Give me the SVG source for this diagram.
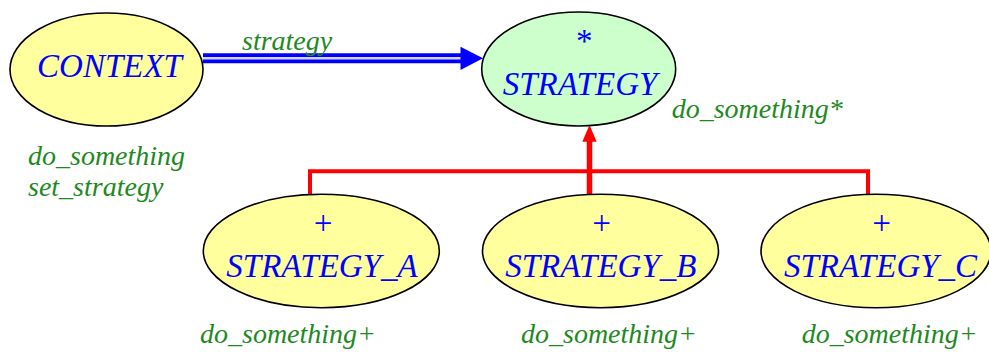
<svg xmlns="http://www.w3.org/2000/svg" width="989" height="352" viewBox="0 0 989 352">
<style>
.node{stroke:#000;stroke-width:1.6}
.yel{fill:#ffff9e}
.grn{fill:#ccffcc}
.nt{font-family:"Liberation Serif","Times New Roman",serif;font-style:italic;font-size:33px;fill:#0000ff;text-anchor:middle}
.lbl{font-family:"Liberation Serif","Times New Roman",serif;font-style:italic;font-size:28px;fill:#1e8a1e}
.red{stroke:#ff0000;stroke-width:4;fill:none}
</style>
<rect width="989" height="352" fill="#fff"/>
<g id="connectors">
  <g id="client-link">
    <line x1="203" y1="58.3" x2="462" y2="58.3" stroke="#0000ff" stroke-width="10"/>
    <line x1="203" y1="58.3" x2="462" y2="58.3" stroke="#d4d4ff" stroke-width="2.6"/>
    <polygon points="460.5,46.7 483,58.3 460.5,70" fill="#0000ff"/>
    <text class="lbl" x="242" y="50">strategy</text>
  </g>
  <g id="inheritance">
    <polyline class="red" points="310,194 310,171.3 868,171.3 868,194"/>
    <line x1="589.5" y1="194" x2="589.5" y2="140" stroke="#ff0000" stroke-width="5.5"/>
    <polygon points="582.3,141.7 589.5,125 596.7,141.7" fill="#ff0000"/>
  </g>
</g>
<g id="context">
  <ellipse class="node yel" cx="106.5" cy="69.5" rx="96.5" ry="56.5"/>
  <text class="nt" x="109.5" y="77">CONTEXT</text>
  <text class="lbl" x="28" y="165">do_something</text>
  <text class="lbl" x="28" y="196">set_strategy</text>
</g>
<g id="strategy">
  <ellipse class="node grn" cx="578.7" cy="69" rx="97" ry="57"/>
  <text class="nt" x="582.7" y="52">*</text>
  <text class="nt" x="580" y="95">STRATEGY</text>
  <text class="lbl" x="671.7" y="118">do_something*</text>
</g>
<g id="strategy_a">
  <ellipse class="node yel" cx="321.3" cy="251" rx="118" ry="56.7"/>
  <text class="nt" x="323" y="234">+</text>
  <text class="nt" x="322" y="277">STRATEGY_A</text>
  <text class="lbl" x="200" y="343">do_something+</text>
</g>
<g id="strategy_b">
  <ellipse class="node yel" cx="600.5" cy="251" rx="118" ry="56.7"/>
  <text class="nt" x="601.5" y="234">+</text>
  <text class="nt" x="600.8" y="277">STRATEGY_B</text>
  <text class="lbl" x="521" y="343">do_something+</text>
</g>
<g id="strategy_c">
  <ellipse class="node yel" cx="876" cy="251" rx="115" ry="56.7"/>
  <text class="nt" x="881.5" y="234">+</text>
  <text class="nt" x="880.5" y="277">STRATEGY_C</text>
  <text class="lbl" x="801.7" y="343">do_something+</text>
</g>
</svg>
